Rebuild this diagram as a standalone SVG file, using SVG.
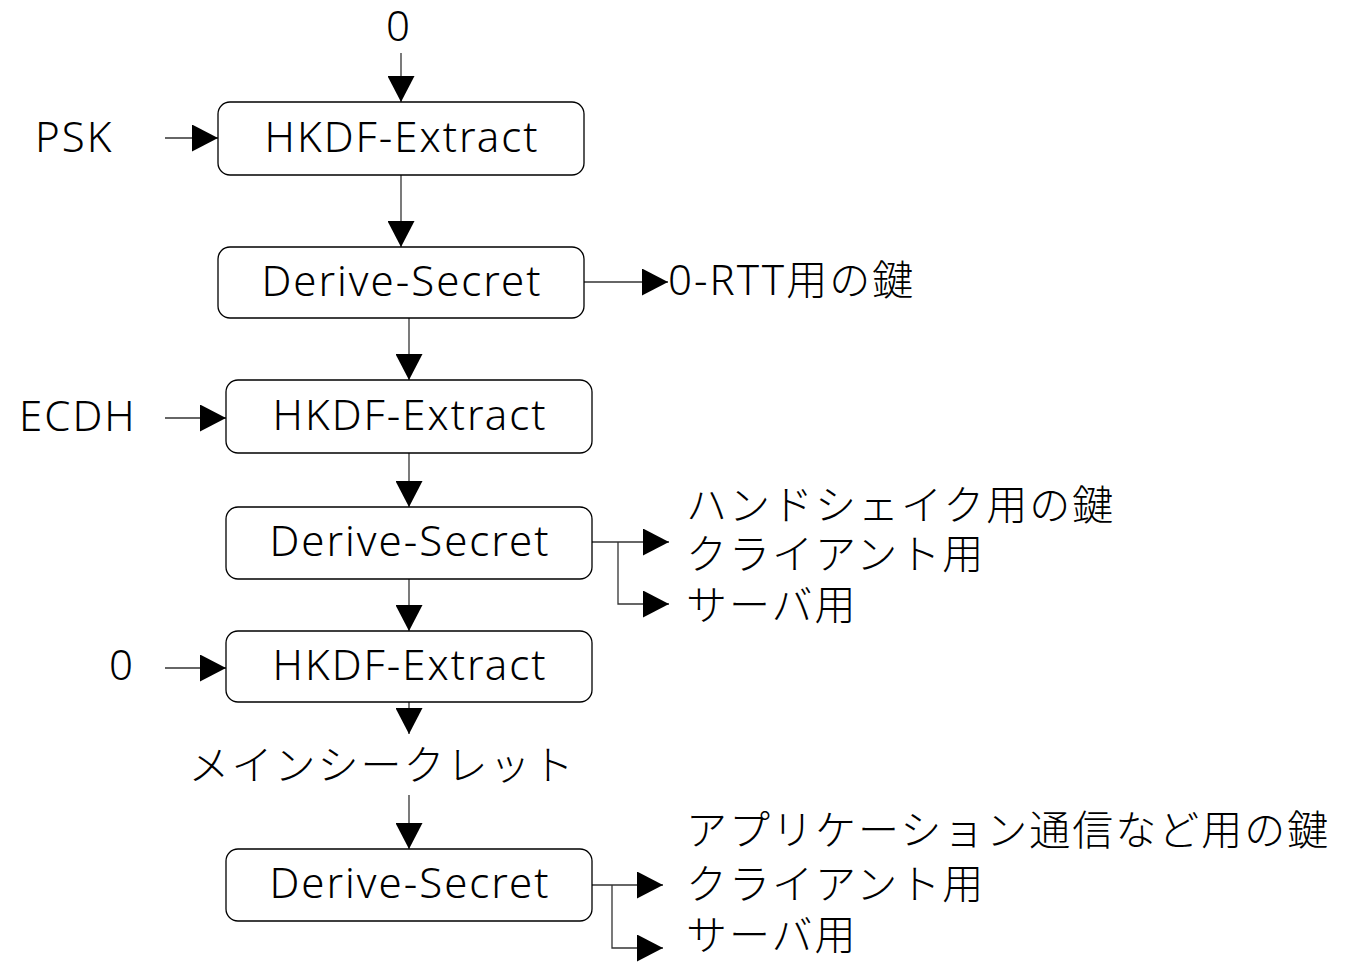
<svg xmlns="http://www.w3.org/2000/svg" width="1355" height="964" viewBox="0 0 1355 964">
<style>
.box{fill:#fff;stroke:#000;stroke-width:1.3}
.t{font-family:"Noto Sans","Noto Sans CJK JP",sans-serif;font-size:42px;font-weight:300;fill:#000;letter-spacing:2px}
.c{text-anchor:middle}
.j{font-family:"Noto Sans CJK JP","Noto Sans",sans-serif;font-size:41px;font-weight:300;fill:#000;letter-spacing:2px}
.ln{fill:none;stroke:#333;stroke-width:1.3}
</style>
<defs>
<marker id="ah" markerUnits="userSpaceOnUse" markerWidth="26" markerHeight="27" viewBox="0 0 26 27" refX="26" refY="13.5" orient="auto">
<path d="M0,0 L26,13.5 L0,27 Z" fill="#000"/>
</marker>
</defs>
<rect width="1355" height="964" fill="#fff"/>
<g id="connectors">
<path class="ln" d="M401,53 V102" marker-end="url(#ah)"/>
<path class="ln" d="M165,138 H218" marker-end="url(#ah)"/>
<path class="ln" d="M401,175 V247" marker-end="url(#ah)"/>
<path class="ln" d="M584,282 H668" marker-end="url(#ah)"/>
<path class="ln" d="M409,318 V380" marker-end="url(#ah)"/>
<path class="ln" d="M165,418 H226" marker-end="url(#ah)"/>
<path class="ln" d="M409,453 V507" marker-end="url(#ah)"/>
<path class="ln" d="M592,542 H669" marker-end="url(#ah)"/>
<path class="ln" d="M618,542 V604 H669" marker-end="url(#ah)"/>
<path class="ln" d="M409,579 V631" marker-end="url(#ah)"/>
<path class="ln" d="M165,668 H226" marker-end="url(#ah)"/>
<path class="ln" d="M409,702 V734" marker-end="url(#ah)"/>
<path class="ln" d="M409,795 V849" marker-end="url(#ah)"/>
<path class="ln" d="M592,885 H663" marker-end="url(#ah)"/>
<path class="ln" d="M612,885 V948 H663" marker-end="url(#ah)"/>
</g>
<g id="in-zero-top"><text class="t c" x="399" y="41">0</text></g>
<g id="in-psk"><text class="t" x="35" y="152">PSK</text></g>
<g id="in-ecdh"><text class="t" x="19" y="431">ECDH</text></g>
<g id="in-zero"><text class="t" x="109" y="680">0</text></g>
<g id="extract1"><rect class="box" x="218" y="102" width="366" height="73" rx="12"/><text class="t c" x="402" y="152">HKDF-Extract</text></g>
<g id="derive1"><rect class="box" x="218" y="247" width="366" height="71" rx="12"/><text class="t c" x="402" y="296">Derive-Secret</text></g>
<g id="extract2"><rect class="box" x="226" y="380" width="366" height="73" rx="12"/><text class="t c" x="410" y="430">HKDF-Extract</text></g>
<g id="derive2"><rect class="box" x="226" y="507" width="366" height="72" rx="12"/><text class="t c" x="410" y="556">Derive-Secret</text></g>
<g id="extract3"><rect class="box" x="226" y="631" width="366" height="71" rx="12"/><text class="t c" x="410" y="680">HKDF-Extract</text></g>
<g id="master"><text class="j c" x="382" y="780">メインシークレット</text></g>
<g id="derive3"><rect class="box" x="226" y="849" width="366" height="72" rx="12"/><text class="t c" x="410" y="898">Derive-Secret</text></g>
<g id="out-0rtt"><text class="t" x="668" y="295">0-RTT<tspan class="j">用の鍵</tspan></text></g>
<g id="out-hs"><text class="j" x="686" y="520">ハンドシェイク用の鍵</text><text class="j" x="686" y="569">クライアント用</text><text class="j" x="686" y="620">サーバ用</text></g>
<g id="out-app"><text class="j" x="686" y="845">アプリケーション通信など用の鍵</text><text class="j" x="686" y="899">クライアント用</text><text class="j" x="686" y="950">サーバ用</text></g>
</svg>
